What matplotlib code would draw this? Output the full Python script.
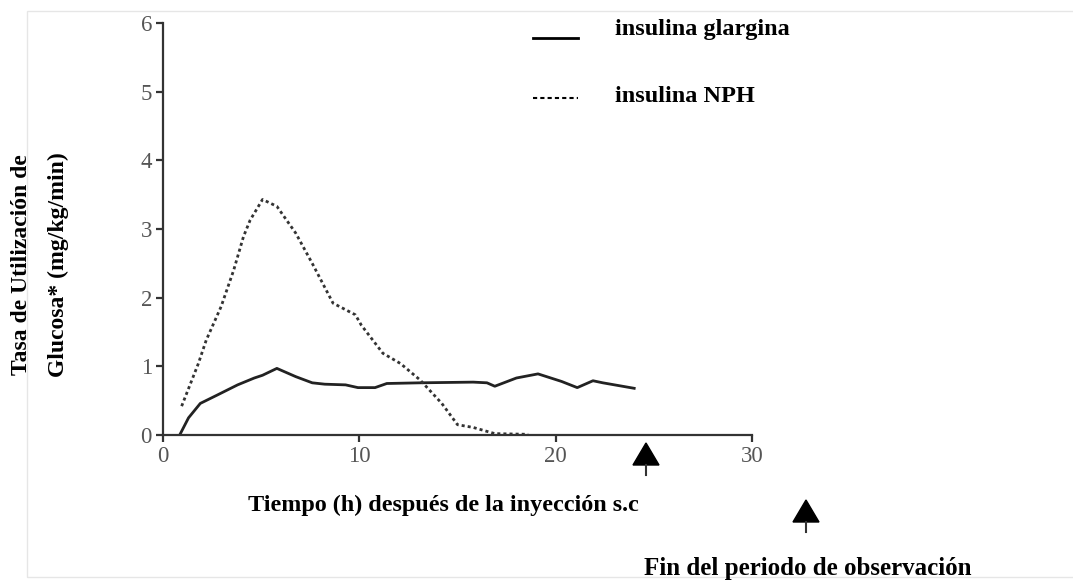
import numpy as np
import matplotlib.pyplot as plt
from matplotlib.patches import Rectangle

# glargina (solid)
t_glar = [0.85, 1.3, 1.9, 2.75, 3.8, 4.65, 5.07, 5.8, 6.76, 7.6, 8.24, 9.3, 9.93, 10.8, 11.4,
          13.1, 15.8, 16.5, 16.9, 18.0, 19.1, 20.3, 21.1, 21.9, 22.4, 24.0]
y_glar = [0.0, 0.25, 0.46, 0.58, 0.73, 0.83, 0.87, 0.97, 0.85, 0.76, 0.74, 0.73, 0.69, 0.69, 0.75,
          0.76, 0.77, 0.76, 0.71, 0.83, 0.89, 0.78, 0.69, 0.79, 0.76, 0.68]

# NPH (dotted)
t_nph = [0.95, 1.8, 2.2, 2.96, 3.6, 4.1, 4.44, 5.07, 5.8, 6.76, 7.6, 8.66, 9.8, 10.1,
         11.2, 12.1, 13.1, 14.2, 15.0, 15.8, 16.9, 18.6]
y_nph = [0.42, 1.04, 1.38, 1.87, 2.4, 2.89, 3.13, 3.43, 3.33, 2.94, 2.5, 1.92, 1.75, 1.6,
         1.19, 1.04, 0.8, 0.46, 0.15, 0.11, 0.02, 0.01]

xticks = [0, 10, 20, 30]
yticks = [0, 1, 2, 3, 4, 5, 6]

serif = 'Liberation Serif'

fig = plt.figure(figsize=(10.73, 5.81), dpi=100)
ax = fig.add_axes([163/1073, 1-435/581, (752-163)/1073, (435-23)/581])

ax.plot(t_glar, y_glar, color='#222222', lw=2)
ax.plot(t_nph, y_nph, color='#333333', lw=2, linestyle=(0, (1.1, 1.1)))

ax.set_xlim(0, 30)
ax.set_ylim(0, 6)
ax.set_xticks(xticks)
ax.set_yticks(yticks)
for s in ['top', 'right']:
    ax.spines[s].set_visible(False)
for s in ['left', 'bottom']:
    ax.spines[s].set_linewidth(1.6)
    ax.spines[s].set_color('#333333')
ax.tick_params(direction='out', length=5, width=1.6, color='#333333',
               labelsize=16.5, labelcolor='#555555', pad=3)
for lb in ax.get_xticklabels() + ax.get_yticklabels():
    lb.set_fontfamily(serif)
ax.margins(0)

# legend drawn by hand
fig.add_artist(plt.Line2D([533/1073, 578/1073], [1-38/581, 1-38/581],
                          color='black', lw=2))
fig.add_artist(plt.Line2D([533/1073, 578/1073], [1-98/581, 1-98/581],
                          color='black', lw=1.5, linestyle=(0, (2, 1.5))))
fig.text(615/1073, 1-30/581, 'insulina glargina', fontsize=17.5, fontweight='bold',
         family=serif, va='center', ha='left')
fig.text(615/1073, 1-97/581, 'insulina NPH', fontsize=17.5, fontweight='bold',
         family=serif, va='center', ha='left')

# y label (two lines)
fig.text(22/1073, 1-265/581, 'Tasa de Utilización de', rotation=90, fontsize=17,
         fontweight='bold', family=serif, va='center', ha='center')
fig.text(58/1073, 1-265/581, 'Glucosa* (mg/kg/min)', rotation=90, fontsize=17,
         fontweight='bold', family=serif, va='center', ha='center')

# x label
fig.text(443/1073, 1-505/581, 'Tiempo (h) después de la inyección s.c', fontsize=17.4,
         fontweight='bold', family=serif, va='center', ha='center')

fig.text(808/1073, 1-568/581, 'Fin del periodo de observación', fontsize=18,
         fontweight='bold', family=serif, va='center', ha='center')

# arrows
for xa, ytop in [(646, 443), (806, 500)]:
    fig.add_artist(plt.Polygon([[(xa-13)/1073, 1-(ytop+22)/581],
                                [(xa+13)/1073, 1-(ytop+22)/581],
                                [xa/1073, 1-ytop/581]],
                               closed=True, color='black'))
    fig.add_artist(plt.Line2D([xa/1073, xa/1073], [1-(ytop+22)/581, 1-(ytop+32)/581],
                              color='#333333', lw=1.5))

# faint frame around the picture
fig.add_artist(Rectangle((27/1073, 1-577/581), 1.2, (577-11)/581, fill=False,
                         edgecolor='#e6e6e6', lw=1, transform=fig.transFigure))

fig.savefig('out.png', dpi=100)
